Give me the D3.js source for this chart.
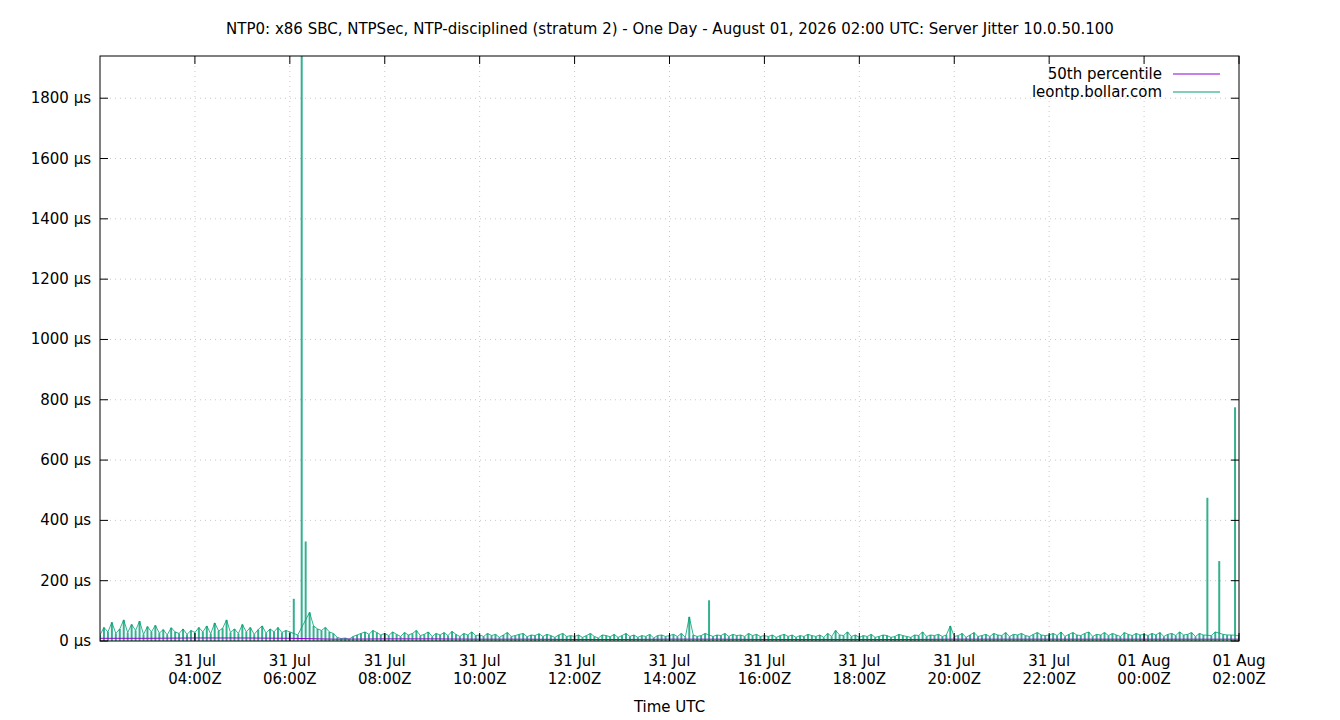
<!DOCTYPE html>
<html>
<head>
<meta charset="utf-8">
<script src="https://cdn.jsdelivr.net/npm/d3@7"></script>
<style>
  body { margin: 0; background: #fff; }
  text { font-family: "DejaVu Sans", sans-serif; }
</style>
</head>
<body>
<div id="chart"></div>
<script>
// jitter samples every 5 minutes from 31 Jul 02:00Z, one row = 2 hours
const jitter = [
  20, 45, 30, 62, 25, 40, 70, 28, 55, 35, 66, 22, 48, 30, 52, 26, 38, 20, 44, 30, 25, 40, 22, 35,
  28, 45, 30, 50, 24, 60, 33, 42, 70, 28, 40, 25, 55, 30, 45, 22, 38, 50, 26, 40, 30, 45, 28, 35,
  30, 140, 20, 1960, 330, 95, 50, 40, 35, 45, 30, 25, 12, 8, 10, 6, 15, 20, 25, 30, 22, 35, 28, 20,
  25, 18, 30, 22, 15, 28, 20, 25, 35, 18, 22, 30, 15, 25, 20, 28, 18, 32, 22, 15, 25, 20, 30, 18,
  20, 15, 25, 18, 22, 12, 20, 28, 15, 18, 22, 25, 14, 20, 18, 24, 15, 22, 18, 12, 20, 25, 15, 18,
  15, 20, 12, 18, 25, 15, 10, 20, 18, 14, 22, 12, 18, 25, 15, 20, 12, 18, 15, 22, 10, 18, 20, 15,
  18, 22, 15, 25, 12, 80, 20, 15, 18, 25, 135, 15, 20, 18, 25, 15, 22, 18, 20, 15, 25, 18, 22, 15,
  18, 15, 20, 12, 18, 22, 15, 20, 12, 18, 15, 22, 18, 15, 20, 12, 25, 15, 35, 20, 18, 30, 15, 20,
  12, 18, 15, 22, 12, 15, 20, 18, 12, 15, 22, 18, 15, 12, 20, 18, 30, 15, 20, 18, 22, 15, 20, 50,
  15, 18, 25, 12, 20, 28, 15, 18, 22, 15, 25, 20, 18, 28, 15, 22, 20, 25, 18, 15, 22, 28, 20, 18,
  20, 25, 18, 30, 15, 22, 28, 20, 18, 25, 30, 15, 22, 20, 28, 18, 25, 20, 15, 28, 22, 18, 25, 20,
  22, 18, 25, 20, 28, 15, 22, 25, 18, 30, 20, 22, 28, 15, 25, 20, 475, 18, 30, 265, 22, 20, 20, 775,
  18
];
// hourly 50th percentile
const median = [9, 9, 10, 10, 9, 6, 7, 7, 6, 6, 5, 5, 6, 6, 5, 5, 5, 5, 6, 6, 6, 6, 6, 6, 6];
const yTicks = [0, 200, 400, 600, 800, 1000, 1200, 1400, 1600, 1800];
const legendNames = ["50th percentile", "leontp.bollar.com"];
const legendColors = ["#9400d3", "#009e73"];

const width = 1340, height = 720;
const margin = { top: 56, right: 101, bottom: 79, left: 100 };

const svg = d3.select("#chart").append("svg")
  .attr("width", width).attr("height", height);

const t0 = new Date(Date.UTC(2026, 6, 31, 2, 0));
const t1 = new Date(Date.UTC(2026, 7, 1, 2, 0));
const x = d3.scaleUtc().domain([t0, t1]).range([margin.left, width - margin.right]);
const y = d3.scaleLinear().domain([0, 1940]).range([height - margin.bottom, margin.top]);

const jData = jitter.map((v, i) => ({ t: new Date(+t0 + i * 5 * 60000), v }));
const mData = median.map((v, i) => ({ t: new Date(+t0 + i * 3600000), v }));

const xTicks = d3.range(1, 13).map(i => new Date(+t0 + i * 2 * 3600000));

// grid
const grid = svg.append("g").attr("stroke", "#c8c8c8").attr("stroke-dasharray", "1,4");
grid.selectAll(".gx").data(xTicks.slice(0, -1)).enter().append("line")
  .attr("x1", d => x(d)).attr("x2", d => x(d))
  .attr("y1", margin.top).attr("y2", height - margin.bottom);
grid.selectAll(".gy").data(yTicks.slice(1)).enter().append("line")
  .attr("x1", margin.left).attr("x2", width - margin.right)
  .attr("y1", d => y(d)).attr("y2", d => y(d));

// clip
svg.append("clipPath").attr("id", "clip").append("rect")
  .attr("x", margin.left).attr("y", margin.top)
  .attr("width", width - margin.left - margin.right)
  .attr("height", height - margin.top - margin.bottom);

const plot = svg.append("g").attr("clip-path", "url(#clip)");

// impulses
plot.selectAll(".imp").data(jData).enter().append("line")
  .attr("x1", d => x(d.t)).attr("x2", d => x(d.t))
  .attr("y1", y(0)).attr("y2", d => y(d.v))
  .attr("stroke", "#009e73").attr("stroke-width", 2).attr("stroke-opacity", 0.8);
// thin noise band along the tops
plot.append("path").datum(jData.filter(d => d.v < 100))
  .attr("fill", "none").attr("stroke", "#009e73").attr("stroke-width", 0.8)
  .attr("d", d3.line().x(d => x(d.t)).y(d => y(d.v)));
plot.append("path").datum(mData)
  .attr("fill", "none").attr("stroke", "#9400d3").attr("stroke-width", 1)
  .attr("d", d3.line().x(d => x(d.t)).y(d => y(d.v)));

// frame
svg.append("rect")
  .attr("x", margin.left).attr("y", margin.top)
  .attr("width", width - margin.left - margin.right)
  .attr("height", height - margin.top - margin.bottom)
  .attr("fill", "none").attr("stroke", "#000");

// y axis
const yAxis = svg.append("g").attr("font-size", 15);
yTicks.forEach(v => {
  yAxis.append("line").attr("stroke", "#000")
    .attr("x1", margin.left).attr("x2", margin.left + 8).attr("y1", y(v)).attr("y2", y(v));
  yAxis.append("line").attr("stroke", "#000")
    .attr("x1", width - margin.right).attr("x2", width - margin.right - 8).attr("y1", y(v)).attr("y2", y(v));
  yAxis.append("text").attr("x", margin.left - 9).attr("y", y(v) + 5)
    .attr("text-anchor", "end").text(v + " µs");
});

// x axis
const fmtDay = d3.utcFormat("%d %b"), fmtHour = d3.utcFormat("%H:%MZ");
const xAxis = svg.append("g").attr("font-size", 15);
xTicks.forEach(d => {
  xAxis.append("line").attr("stroke", "#000")
    .attr("x1", x(d)).attr("x2", x(d)).attr("y1", height - margin.bottom).attr("y2", height - margin.bottom - 8);
  xAxis.append("line").attr("stroke", "#000")
    .attr("x1", x(d)).attr("x2", x(d)).attr("y1", margin.top).attr("y2", margin.top + 8);
  const t = xAxis.append("text").attr("text-anchor", "middle");
  t.append("tspan").attr("x", x(d)).attr("y", 666).text(fmtDay(d));
  t.append("tspan").attr("x", x(d)).attr("y", 684).text(fmtHour(d));
});
svg.append("text").attr("x", (margin.left + width - margin.right) / 2).attr("y", 712)
  .attr("text-anchor", "middle").attr("font-size", 15).text("Time UTC");

// title
svg.append("text").attr("x", width / 2).attr("y", 34).attr("text-anchor", "middle")
  .attr("font-size", 15)
  .text("NTP0: x86 SBC, NTPSec, NTP-disciplined (stratum 2) - One Day - August 01, 2026 02:00 UTC: Server Jitter 10.0.50.100");

// legend
legendNames.forEach((n, i) => {
  const ly = 74 + i * 18;
  svg.append("text").attr("x", 1162).attr("y", ly + 5).attr("text-anchor", "end")
    .attr("font-size", 15).text(n);
  svg.append("line").attr("x1", 1173).attr("x2", 1220).attr("y1", ly).attr("y2", ly)
    .attr("stroke", legendColors[i]);
});
</script>
</body>
</html>
